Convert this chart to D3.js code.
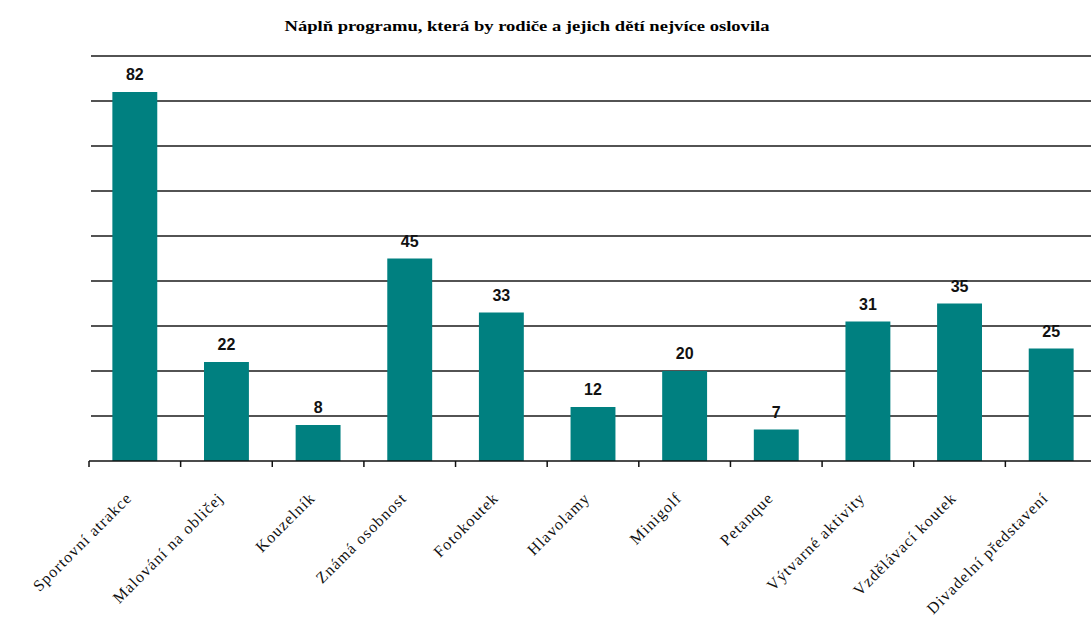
<!DOCTYPE html>
<html>
<head>
<meta charset="utf-8">
<script src="https://cdn.jsdelivr.net/npm/d3@7"></script>
<style>
  body { margin: 0; background: #fff; }
  svg { display: block; }
</style>
</head>
<body>
<div id="chart"></div>
<script>
// chart data
const categories = [
  'Sportovní atrakce', 'Malování na obličej', 'Kouzelník', 'Známá osobnost',
  'Fotokoutek', 'Hlavolamy', 'Minigolf', 'Petanque', 'Výtvarné aktivity',
  'Vzdělávací koutek', 'Divadelní představení'
];
const values = [82, 22, 8, 45, 33, 12, 20, 7, 31, 35, 25];
const yTicks = [0, 10, 20, 30, 40, 50, 60, 70, 80, 90];
const title = 'Náplň programu, která by rodiče a jejich dětí nejvíce oslovila';

const width = 1091;
const height = 625;

const svg = d3.select('#chart').append('svg')
  .attr('width', width)
  .attr('height', height);

const x = d3.scaleBand()
  .domain(categories)
  .range([89, 1097])
  .paddingInner(0.51)
  .paddingOuter(0.255);

const y = d3.scaleLinear()
  .domain([0, 90])
  .range([461, 56]);

// horizontal gridlines
svg.append('g')
  .selectAll('line')
  .data(yTicks.slice(1))
  .join('line')
  .attr('x1', 91)
  .attr('x2', width)
  .attr('y1', d => y(d))
  .attr('y2', d => y(d))
  .attr('stroke', '#1a1a1a')
  .attr('stroke-width', 1.6);

// bars
svg.append('g')
  .selectAll('rect')
  .data(values)
  .join('rect')
  .attr('x', (d, i) => x(categories[i]))
  .attr('y', d => y(d))
  .attr('width', x.bandwidth())
  .attr('height', d => y(0) - y(d))
  .attr('fill', '#008080');

// value labels
svg.append('g')
  .selectAll('text')
  .data(values)
  .join('text')
  .attr('x', (d, i) => x(categories[i]) + x.bandwidth() / 2)
  .attr('y', d => y(d) - 12)
  .attr('text-anchor', 'middle')
  .attr('font-family', 'Liberation Sans, Arial, sans-serif')
  .attr('font-weight', 'bold')
  .attr('font-size', 16)
  .attr('fill', '#111')
  .text(d => d);

// x axis: category boundaries as ticks
const xAxis = d3.axisBottom(x).tickSize(0).tickFormat('');
const axisG = svg.append('g')
  .attr('transform', `translate(0,${y(0)})`)
  .call(xAxis);
axisG.select('.domain')
  .attr('d', `M89,0H${width}`)
  .attr('stroke', '#111')
  .attr('stroke-width', 1.6);

const step = x.step();
svg.append('g')
  .selectAll('line')
  .data(d3.range(categories.length + 1))
  .join('line')
  .attr('x1', i => 89 + i * step)
  .attr('x2', i => 89 + i * step)
  .attr('y1', y(0))
  .attr('y2', y(0) + 6)
  .attr('stroke', '#111')
  .attr('stroke-width', 1.5);

// rotated category labels
svg.append('g')
  .selectAll('text')
  .data(categories)
  .join('text')
  .attr('transform', d => `translate(${x(d) + x.bandwidth() / 2 - 2},${499}) rotate(-45)`)
  .attr('text-anchor', 'end')
  .attr('font-family', 'Liberation Serif, Times New Roman, serif')
  .attr('font-size', 16)
  .attr('letter-spacing', 1.1)
  .attr('fill', '#111')
  .text(d => d);

// title
svg.append('text')
  .attr('x', 527)
  .attr('y', 31)
  .attr('text-anchor', 'middle')
  .attr('font-family', 'Liberation Serif, Times New Roman, serif')
  .attr('font-weight', 'bold')
  .attr('font-size', 14)
  .attr('textLength', 485)
  .attr('lengthAdjust', 'spacingAndGlyphs')
  .attr('fill', '#000')
  .text(title);
</script>
</body>
</html>
